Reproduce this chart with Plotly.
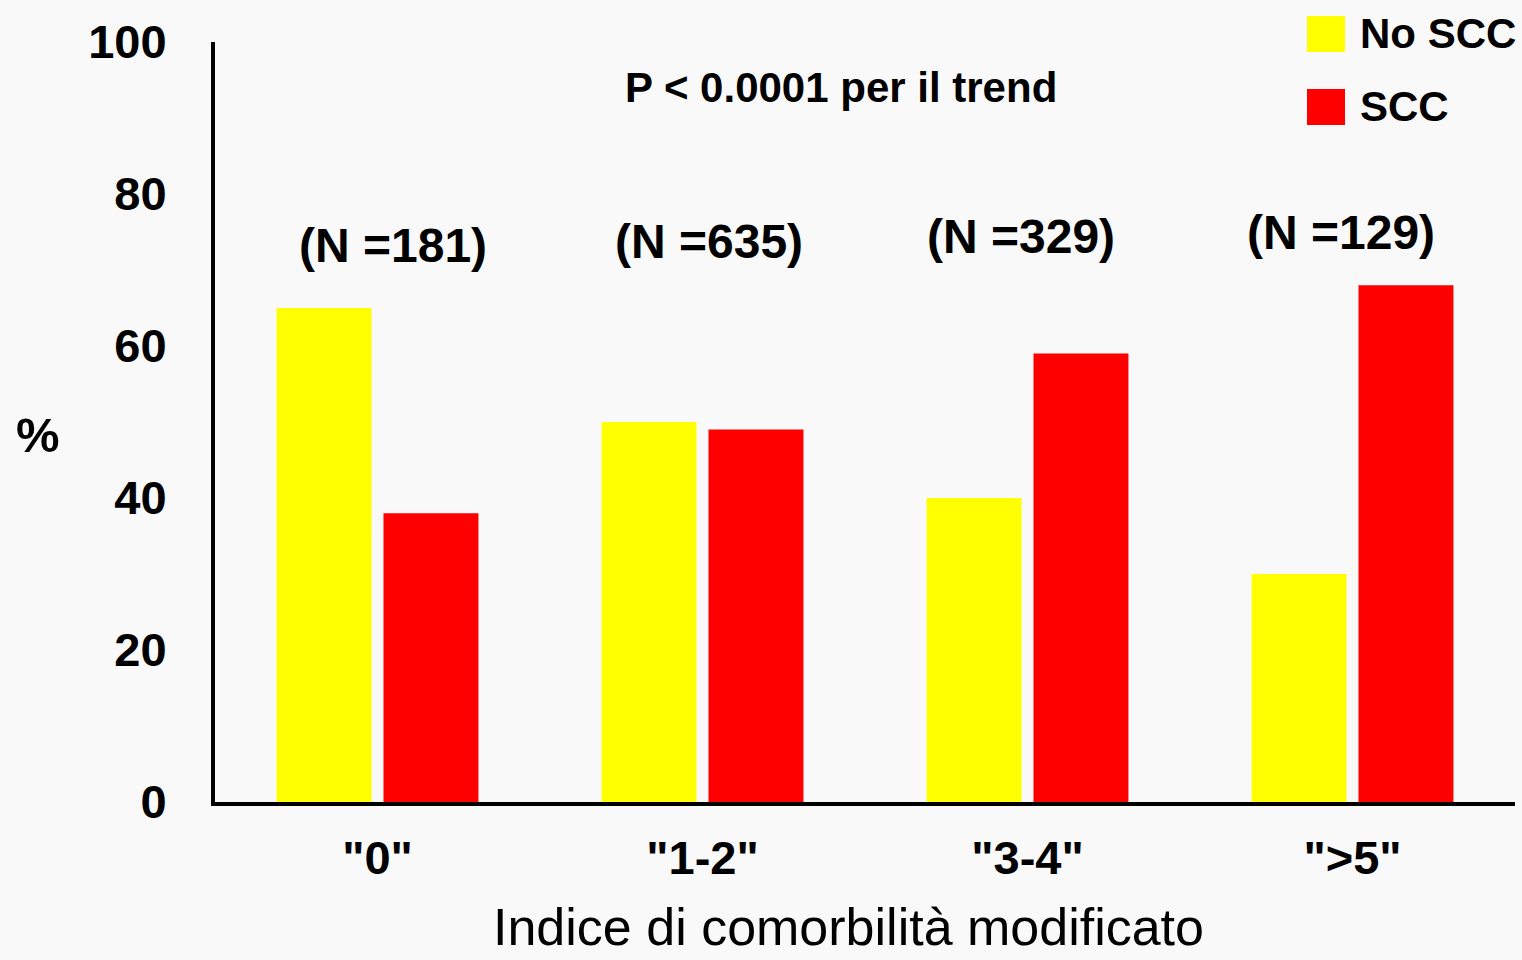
import plotly.graph_objects as go

categories = ['"0"', '"1-2"', '"3-4"', '">5"']
no_scc = [65, 50, 40, 30]
scc = [38, 49, 59, 68]
n_labels = ["(N =181)", "(N =635)", "(N =329)", "(N =129)"]
y_ticks = [0, 20, 40, 60, 80, 100]

FONT = "Liberation Sans, Arial, sans-serif"
BG = "#f9f9f9"
YELLOW = "#ffff00"
RED = "#ff0000"

W, H = 1522, 960
L, R, T, B = 215, 7, 42, 158
PW, PH = W - L - R, H - T - B


def px(x):
    return (x - L) / PW


def py(y):
    return (H - B - y) / PH


fig = go.Figure()
fig.add_trace(go.Bar(x=list(range(len(categories))), y=no_scc, name="No SCC",
                     marker=dict(color=YELLOW, line=dict(width=0)), showlegend=False))
fig.add_trace(go.Bar(x=list(range(len(categories))), y=scc, name="SCC",
                     marker=dict(color=RED, line=dict(width=0)), showlegend=False))

annotations = []
n_pos = [(393, 245), (709, 241), (1021, 237), (1341, 232)]
for lab, (ax_, ay_) in zip(n_labels, n_pos):
    annotations.append(dict(x=px(ax_), y=py(ay_), xref="paper", yref="paper",
                            text="<b>" + lab + "</b>", showarrow=False,
                            xanchor="center", yanchor="middle",
                            font=dict(family=FONT, size=48, color="black")))
annotations.append(dict(x=px(841), y=py(87), xref="paper", yref="paper",
                        text="<b>P < 0.0001 per il trend</b>", showarrow=False,
                        xanchor="center", yanchor="middle",
                        font=dict(family=FONT, size=42, color="black")))
annotations.append(dict(x=px(848), y=py(958), xref="paper", yref="paper",
                        text="Indice di comorbilità modificato", showarrow=False,
                        xanchor="center", yanchor="bottom",
                        font=dict(family=FONT, size=52, color="black")))
annotations.append(dict(x=px(38), y=py(435), xref="paper", yref="paper",
                        text="<b>%</b>", showarrow=False,
                        xanchor="center", yanchor="middle",
                        font=dict(family=FONT, size=49, color="black")))

shapes = []
legend_items = [("No SCC", YELLOW, 34), ("SCC", RED, 107)]
for name, col, cy in legend_items:
    shapes.append(dict(type="rect", xref="paper", yref="paper",
                       x0=px(1307), x1=px(1345), y0=py(cy + 18), y1=py(cy - 18),
                       fillcolor=col, line=dict(width=0)))
    annotations.append(dict(x=px(1358), y=py(cy), xref="paper", yref="paper",
                            text="<b>" + name + "</b>", showarrow=False,
                            xanchor="left", yanchor="middle",
                            font=dict(family=FONT, size=42, color="black")))

fig.update_layout(
    width=W, height=H,
    margin=dict(l=L, r=R, t=T, b=B),
    paper_bgcolor=BG, plot_bgcolor=BG,
    barmode="group", bargap=0.342, bargroupgap=0.112,
    annotations=annotations, shapes=shapes,
    showlegend=False,
    xaxis=dict(tickmode="array", tickvals=list(range(len(categories))),
               ticktext=["<b>" + c + "</b>" for c in categories],
               range=[-0.5, 3.5], showgrid=False, zeroline=False,
               showline=True, linecolor="black", linewidth=4,
               ticks="", ticklabelstandoff=12,
               tickfont=dict(family=FONT, size=47, color="black")),
    yaxis=dict(tickmode="array", tickvals=y_ticks,
               ticktext=["<b>%d</b>" % v for v in y_ticks],
               range=[0, 100], showgrid=False, zeroline=False,
               showline=True, linecolor="black", linewidth=4,
               ticks="", ticklabelstandoff=35,
               tickfont=dict(family=FONT, size=47, color="black")),
)

fig.write_html("out.html")
